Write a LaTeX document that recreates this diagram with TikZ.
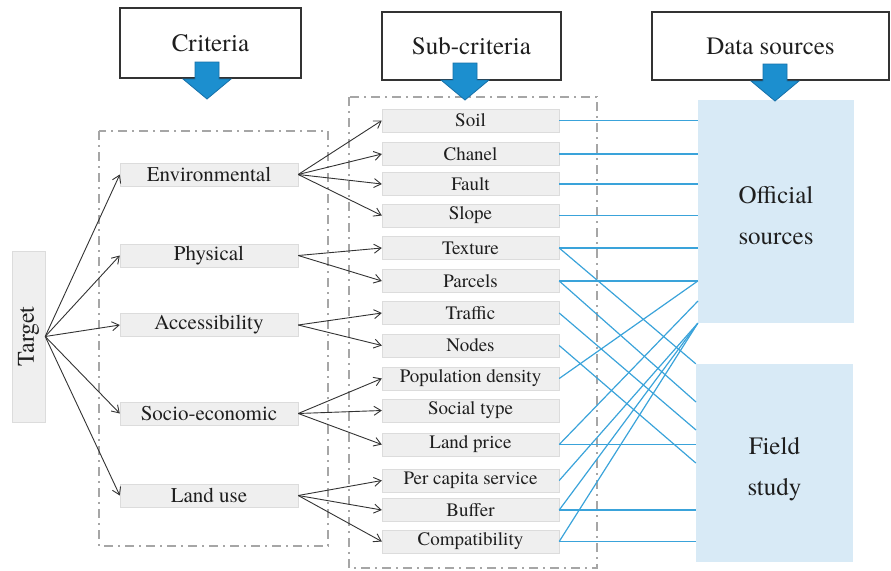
\documentclass[tikz,border=0pt]{standalone}
\usepackage{fontspec}
\setmainfont{texgyretermes}[Extension=.otf, UprightFont=*-regular, BoldFont=*-bold, ItalicFont=*-italic, BoldItalicFont=*-bolditalic]
\usetikzlibrary{arrows.meta,calc}
\definecolor{boxfill}{HTML}{EFEFEF}
\definecolor{boxedge}{HTML}{DCDCDC}
\definecolor{srcfill}{HTML}{D8EAF6}
\definecolor{linkblue}{HTML}{3AA3DA}
\definecolor{arrfill}{HTML}{1C8FCF}
\definecolor{arredge}{HTML}{1670A8}
\definecolor{conncol}{HTML}{333333}
\definecolor{groupcol}{HTML}{A6A6A6}
\definecolor{txtcol}{HTML}{1E1E1E}
\newcommand{\critfnt}{\fontsize{21}{25}\selectfont}
\newcommand{\subcfnt}{\fontsize{19}{23}\selectfont}
\newcommand{\ttlfnt}{\fontsize{25}{30}\selectfont}
\newcommand{\srcfnt}{\fontsize{25}{41}\selectfont}
\tikzset{
  critbox/.style={draw=boxedge, fill=boxfill, minimum width=178pt, minimum height=23pt, inner sep=0pt, font=\critfnt, text=txtcol},
  subcbox/.style={draw=boxedge, fill=boxfill, minimum width=177pt, minimum height=23pt, inner sep=0pt, font=\subcfnt, text=txtcol},
  ttlbox/.style={draw=conncol, line width=1.3pt, fill=white, inner sep=0pt, font=\ttlfnt, text=txtcol},
  srcbox/.style={fill=srcfill, inner sep=0pt},
  srctext/.style={align=center, font=\srcfnt, text=txtcol, inner sep=0pt},
  conn/.style={draw=conncol, line width=0.9pt, -{Straight Barb[length=7pt,width=9pt]}},
  link/.style={draw=linkblue, line width=1.2pt},
  group/.style={draw=groupcol, line width=1.6pt, dash pattern=on 9pt off 5pt on 2pt off 5pt},
  blockarr/.pic={\draw[fill=arrfill, draw=arredge, line width=0.8pt, line join=miter]
    (-12,0) -- (12,0) -- (12,17) -- (24,17) -- (0,37) -- (-24,17) -- (-12,17) -- cycle;}
}
\begin{document}
\begin{tikzpicture}[x=1pt, y=-1pt]
\useasboundingbox (0,0) rectangle (891,570);
% groups
\draw[group] (99,131) rectangle (328,546);
\draw[group] (349,97) rectangle (597,568);
% title boxes
\node[ttlbox, minimum width=181pt, minimum height=70pt] (tcrit) at (210.5,43) {Criteria};
\node[ttlbox, minimum width=179pt, minimum height=68pt] (tsub) at (471.5,46) {Sub-criteria};
\node[ttlbox, minimum width=237pt, minimum height=68pt] (tdata) at (770.5,46) {Data sources};
% source boxes
\node[srcbox, minimum width=156pt, minimum height=223pt] (off) at (776,211.5) {};
\node[srcbox, minimum width=157pt, minimum height=198pt] (field) at (774.5,463) {};
\node[srctext] (offtxt) at ($(off.center)+(0,4)$) {Official\\sources};
\node[srctext] (fieldtxt) at ($(field.center)+(0,6)$) {Field\\study};
% target
\node[draw=boxedge, fill=boxfill, minimum width=33pt, minimum height=171pt, inner sep=0pt] (target) at (28.5,336.5) {};
\node[rotate=90, font=\fontsize{24}{28}\selectfont, text=txtcol] (targettxt) at (target.center) {Target};
% criteria
\node[critbox] (env) at (209,174.5) {Environmental};
\node[critbox] (phys) at (209,255.5) {Physical};
\node[critbox] (acc) at (209,325) {Accessibility};
\node[critbox] (soc) at (209,413.5) {Socio-economic};
\node[critbox] (lu) at (209,495.5) {Land use};
% sub-criteria
\node[subcbox] (soil) at (470.5,120.5) {Soil};
\node[subcbox] (chanel) at (470.5,154) {Chanel};
\node[subcbox] (fault) at (470.5,184) {Fault};
\node[subcbox] (slope) at (470.5,215.5) {Slope};
\node[subcbox] (texture) at (470.5,248) {Texture};
\node[subcbox] (parcels) at (470.5,281) {Parcels};
\node[subcbox] (traffic) at (470.5,313) {Traffic};
\node[subcbox] (nodes) at (470.5,345.5) {Nodes};
\node[subcbox] (popd) at (470.5,378.5) {Population density};
\node[subcbox] (social) at (470.5,410.5) {Social type};
\node[subcbox] (landp) at (470.5,444.5) {Land price};
\node[subcbox] (percap) at (470.5,480.5) {Per capita service};
\node[subcbox] (buffer) at (470.5,510) {Buffer};
\node[subcbox] (compat) at (470.5,541.5) {Compatibility};
% free ends on source boxes
\coordinate (f2) at (696,402);
\coordinate (f3) at (696,430);
\coordinate (o2) at (698,301);
% blue links
\foreach \n in {soil,chanel,fault,slope,texture,parcels}
  \draw[link] (\n.east) -- (\n.east -| off.west);
\foreach \n in {landp,buffer,compat}
  \draw[link] (\n.east) -- (\n.east -| field.west);
\draw[link] (texture.east) -- (field.north west);
\draw[link] (parcels.east) -- (f2);
\draw[link] (traffic.east) -- (f3);
\draw[link] (nodes.east) -- (field.west);
\draw[link] (popd.east) -- (parcels.east -| off.west);
\draw[link] (landp.east) -- (o2);
\draw[link] (percap.east) -- (off.south west);
\draw[link] (buffer.east) -- (off.south west);
\draw[link] (compat.east) -- (off.south west);
% arrows target -> criteria
\foreach \n in {env,phys,acc,soc,lu}
  \draw[conn] (target.east) -- (\n.west);
% criteria -> sub-criteria
\foreach \a/\b in {env/soil,env/chanel,env/fault,env/slope,phys/texture,phys/parcels,acc/traffic,acc/nodes,soc/popd,soc/social,soc/landp,lu/percap,lu/buffer,lu/compat}
  \draw[conn] (\a.east) -- (\b.west);
% block arrows
\pic at (207,62) {blockarr};
\pic at (465,63) {blockarr};
\pic at (775,64) {blockarr};
\end{tikzpicture}
\end{document}
